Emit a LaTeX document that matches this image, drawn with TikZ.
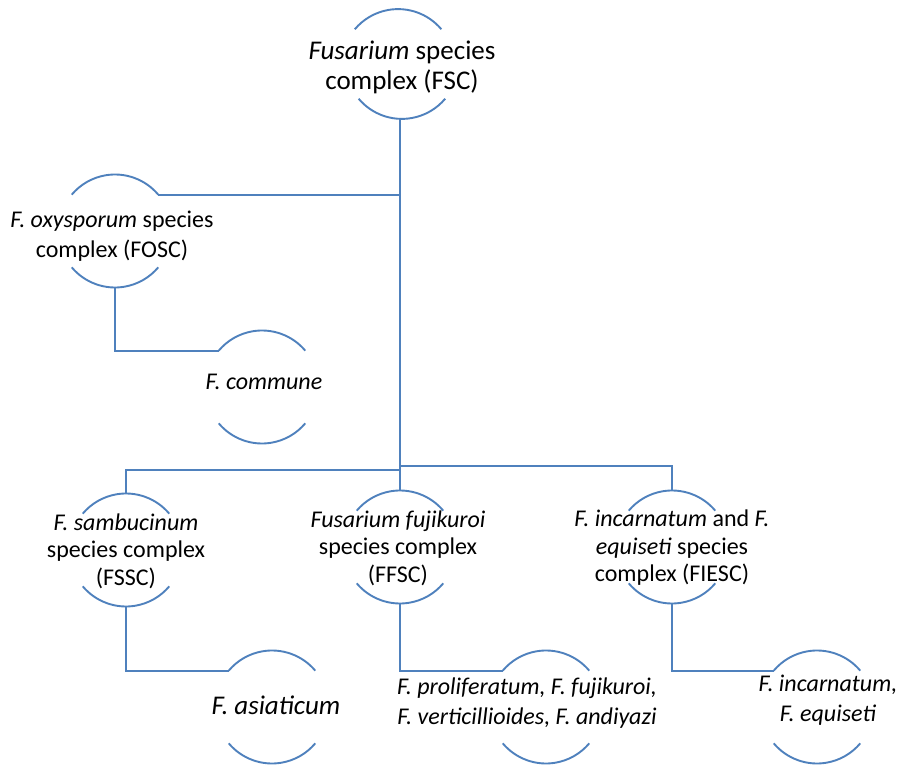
\documentclass[tikz,border=0pt]{standalone}
\usepackage{fontspec}
\setmainfont{Carlito}
\definecolor{linkblue}{RGB}{79,129,189}
\begin{document}
\begin{tikzpicture}[x=1pt,y=1pt,
  hub/.style={circle, minimum size=113pt, inner sep=0pt, outer sep=0pt},
  txt/.style={font=\fontsize{24}{29.5}\selectfont, align=center, text=black, inner sep=0pt},
  three/.style={font=\fontsize{24}{27.5}\selectfont},
  link/.style={draw=linkblue, line width=1.9pt},
]
\useasboundingbox (0,0) rectangle (906,-765);
\fill[white] (0,0) rectangle (906,-765);

% circle outlines (only the top and bottom arcs are drawn)
\node[hub, minimum size=108pt] (fsc) at (400,-64) {};
\node[hub] (fosc)    at (115,-231) {};
\node[hub] (commune) at (262,-387) {};
\node[hub] (fssc)    at (126,-550) {};
\node[hub] (ffsc)    at (400,-547) {};
\node[hub] (fiesc)   at (672,-547) {};
\node[hub] (asiat)   at (272,-707) {};
\node[hub] (prolif)  at (546,-707) {};
\node[hub] (incarn)  at (817,-707) {};

\foreach \n in {fsc,fosc,commune,fssc,ffsc,fiesc,asiat,prolif,incarn}{
  \draw[link] (\n.40) arc[start angle=40, end angle=140, radius=56.5];
  \draw[link] (\n.220) arc[start angle=220, end angle=320, radius=56.5];
}

% labels
\node[txt, font=\fontsize{27}{30}\selectfont] (fsc-t) at (402,-67) {\textit{Fusarium} species\\complex (FSC)};
\node[txt] (fosc-t) at (112,-236) {\textit{F. oxysporum} species\\complex (FOSC)};
\node[txt] (commune-t) at (264,-382) {\textit{F. commune}};
\node[txt, three] (fssc-t) at (126,-551) {\textit{F. sambucinum}\\species complex\\(FSSC)};
\node[txt, three] (ffsc-t) at (398,-548) {\textit{Fusarium fujikuroi}\\species complex\\(FFSC)};
\node[txt, three] (fiesc-t) at (672,-548) {\textit{F. incarnatum} and \textit{F.}\\\textit{equiseti} species\\complex (FIESC)};
\node[txt, font=\fontsize{27}{30}\selectfont] (asiat-t) at (276,-705) {\textit{F. asiaticum}};
\node[txt] (prolif-t) at (527,-703) {\textit{F. proliferatum, F. fujikuroi,}\\\textit{F. verticillioides, F. andiyazi}};
\node[txt] (incarn-t) at (828,-700) {\textit{F. incarnatum,}\\\textit{F. equiseti}};

% connectors
\coordinate (jl) at (400,-470);
\coordinate (jr) at (400,-466);
\draw[link] (fsc.south) -- (ffsc.north);
\draw[link] (fosc.40) -- (fosc.40 -| fsc.south);
\draw[link] (fosc.south) |- (commune.140);
\draw[link] (fssc.north) |- (jl);
\draw[link] (jr) -| (fiesc.north);
\draw[link] (fssc.south) |- (asiat.140);
\draw[link] (ffsc.south) |- (prolif.140);
\draw[link] (fiesc.south) |- (incarn.140);
\end{tikzpicture}
\end{document}
